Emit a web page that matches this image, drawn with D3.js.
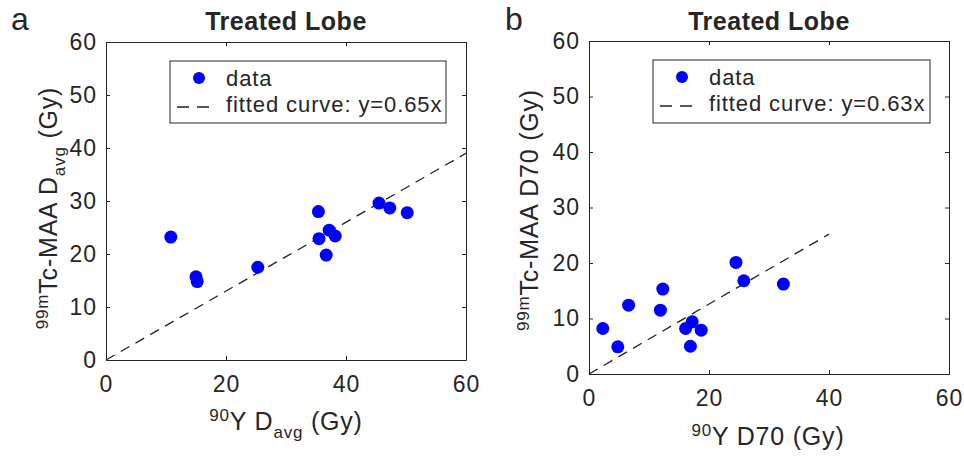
<!DOCTYPE html>
<html>
<head>
<meta charset="utf-8">
<script src="https://cdn.jsdelivr.net/npm/d3@7"></script>
<style>
  body { margin: 0; background: #fff; }
  text { font-family: "Liberation Sans", Arial, sans-serif; fill: #262626; }
</style>
</head>
<body>
<svg id="chart" width="964" height="456"></svg>
<script>
// data
var xTicks = [0, 20, 40, 60];
var yTicks = [0, 10, 20, 30, 40, 50, 60];

// panel a: 90Y Davg vs 99mTc-MAA Davg
var davgY90 = [10.8, 15.0, 15.2, 25.3, 35.4, 35.5, 37.2, 38.2, 36.7, 45.5, 47.3, 50.2];
var davgTc = [23.2, 15.7, 14.8, 17.5, 28.0, 22.9, 24.5, 23.4, 19.8, 29.6, 28.7, 27.8];

// panel b: 90Y D70 vs 99mTc-MAA D70
var d70Y90 = [2.3, 4.8, 6.6, 11.9, 12.3, 16.1, 17.2, 16.9, 18.7, 24.5, 25.8, 32.4];
var d70Tc = [8.2, 4.9, 12.4, 11.5, 15.3, 8.2, 9.4, 5.0, 7.9, 20.1, 16.8, 16.2];

var slopes = [0.65, 0.63];
var fitRange = [[0, 60], [0, 40]];
var legendLabels = ["data", "fitted curve: y="];

var svg = d3.select("#chart");

var panels = [
  { letter: "a", xs: davgY90, ys: davgTc, slope: slopes[0], fit: fitRange[0],
    xlabel: [["90", "sup"], ["Y D", ""], ["avg", "sub"], [" (Gy)", ""]],
    ylabel: [["99m", "sup"], ["Tc-MAA D", ""], ["avg", "sub"], [" (Gy)", ""]],
    left: 106, right: 466, top: 42, bottom: 360,
    letterPos: [11, 30], xlabPos: [286, 430], ylabPos: [57, 208],
    legend: [170, 61, 276, 62] },
  { letter: "b", xs: d70Y90, ys: d70Tc, slope: slopes[1], fit: fitRange[1],
    xlabel: [["90", "sup"], ["Y D70 (Gy)", ""]],
    ylabel: [["99m", "sup"], ["Tc-MAA D70 (Gy)", ""]],
    left: 589, right: 949, top: 41, bottom: 374,
    letterPos: [505, 30], xlabPos: [768, 445], ylabPos: [538, 210],
    legend: [653, 60, 277, 63] }
];

var tickFont = 23, labelFont = 25;

// writes text with super/subscripts as tspans
function richText(sel, parts, size) {
  var small = Math.round(size * 0.66);
  var shift = 0;
  parts.forEach(function(p) {
    var want = p[1] == "sup" ? -size * 0.36 : p[1] == "sub" ? size * 0.32 : 0;
    sel.append("tspan")
      .attr("dy", want - shift)
      .style("font-size", (p[1] ? small : size) + "px")
      .text(p[0]);
    shift = want;
  });
}

panels.forEach(function(p) {
  var x = d3.scaleLinear().domain([0, 60]).range([p.left, p.right]);
  var y = d3.scaleLinear().domain([0, 60]).range([p.bottom, p.top]);
  var g = svg.append("g");

  // axes with inward ticks on all four sides
  g.append("g").attr("transform", "translate(0," + p.bottom + ")")
    .call(d3.axisBottom(x).tickValues(xTicks).tickSizeInner(-4).tickSizeOuter(0).tickPadding(16));
  g.append("g").attr("transform", "translate(0," + p.top + ")")
    .call(d3.axisTop(x).tickValues(xTicks).tickSizeInner(-4).tickSizeOuter(0).tickFormat(""));
  g.append("g").attr("transform", "translate(" + p.left + ",0)")
    .call(d3.axisLeft(y).tickValues(yTicks).tickSizeInner(-4).tickSizeOuter(0).tickPadding(9));
  g.append("g").attr("transform", "translate(" + p.right + ",0)")
    .call(d3.axisRight(y).tickValues(yTicks).tickSizeInner(-4).tickSizeOuter(0).tickFormat(""));
  g.selectAll(".domain, .tick line").attr("stroke", "#262626").attr("stroke-width", 1);
  g.selectAll(".tick text").style("font-size", tickFont + "px").attr("fill", "#262626")
    .style("letter-spacing", "1px").attr("font-family", null);

  // fitted line
  g.append("path")
    .datum(p.fit)
    .attr("d", d3.line().x(function(d) { return x(d); }).y(function(d) { return y(d * p.slope); }))
    .attr("stroke", "#222").attr("stroke-width", 1.3).attr("stroke-dasharray", "10,7").attr("fill", "none");

  // points
  g.selectAll("circle.pt").data(p.xs).enter().append("circle")
    .attr("class", "pt")
    .attr("cx", function(d) { return x(d); })
    .attr("cy", function(d, i) { return y(p.ys[i]); })
    .attr("r", 6.5)
    .attr("fill", "#0000ff");

  // legend
  var L = p.legend;
  var lg = g.append("g");
  lg.append("rect").attr("x", L[0]).attr("y", L[1]).attr("width", L[2]).attr("height", L[3])
    .attr("fill", "#fff").attr("stroke", "#262626").attr("stroke-width", 1);
  lg.append("circle").attr("cx", L[0] + 29).attr("cy", L[1] + 17).attr("r", 6).attr("fill", "#0000ff");
  lg.append("line").attr("x1", L[0] + 7).attr("x2", L[0] + 43).attr("y1", L[1] + 46).attr("y2", L[1] + 46)
    .attr("stroke", "#222").attr("stroke-width", 1.3).attr("stroke-dasharray", "12,8");
  lg.append("text").attr("x", L[0] + 56).attr("y", L[1] + 25).style("font-size", "22px")
    .style("letter-spacing", "0.9px").text(legendLabels[0]);
  lg.append("text").attr("x", L[0] + 56).attr("y", L[1] + 51).style("font-size", "22px")
    .style("letter-spacing", "0.9px").text(legendLabels[1] + p.slope + "x");

  // title and panel letter
  g.append("text").attr("x", (p.left + p.right) / 2).attr("y", 30).attr("text-anchor", "middle")
    .style("font-size", "25px").style("font-weight", "bold").style("letter-spacing", "0.5px")
    .attr("fill", "#000").text("Treated Lobe");
  g.append("text").attr("x", p.letterPos[0]).attr("y", p.letterPos[1])
    .style("font-size", "32px").attr("fill", "#000").text(p.letter);

  // axis labels
  var xl = g.append("text").attr("x", p.xlabPos[0]).attr("y", p.xlabPos[1]).attr("text-anchor", "middle")
    .style("letter-spacing", "0.8px");
  richText(xl, p.xlabel, labelFont);
  var yl = g.append("text").attr("text-anchor", "middle").style("letter-spacing", "0.8px")
    .attr("transform", "translate(" + p.ylabPos[0] + "," + p.ylabPos[1] + ") rotate(-90)");
  richText(yl, p.ylabel, labelFont);
});
</script>
</body>
</html>
